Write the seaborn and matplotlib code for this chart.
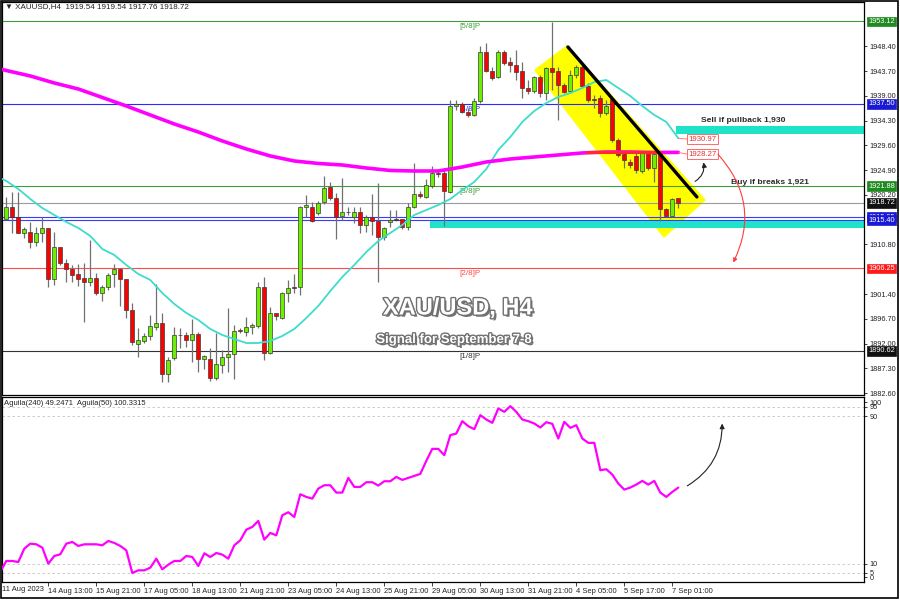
import numpy as np
import pandas as pd
import seaborn as sns
import matplotlib.pyplot as plt
import matplotlib.patheffects as pe
from matplotlib.patches import Polygon, Rectangle, FancyArrowPatch
from matplotlib.transforms import blended_transform_factory

# XAUUSD H4 candles (bar 0 = 11 Aug, last = 7 Sep 05:00)
opens = [1915.57, 1917.84, 1916.07, 1913.04, 1913.23, 1911.33, 1912.91, 1913.86, 1904.18, 1910.25,
         1907.34, 1906.08, 1905.19, 1904.37, 1903.74, 1904.37, 1901.52, 1902.66, 1905.13, 1906.08,
         1904.18, 1898.36, 1891.91, 1892.54, 1893.43, 1895.20, 1895.83, 1886.16, 1889.32, 1893.62,
         1893.62, 1892.67, 1893.81, 1889.00, 1889.13, 1885.40, 1887.93, 1889.51, 1890.01, 1894.44,
         1894.25, 1895.07, 1895.33, 1902.79, 1890.27, 1897.73, 1896.78, 1901.65, 1902.66, 1902.66,
         1917.84, 1917.97, 1916.71, 1918.86, 1921.64, 1919.55, 1916.20, 1917.02, 1915.95, 1917.02,
         1914.49, 1915.95, 1915.31, 1912.28, 1915.12, 1915.57, 1915.57, 1914.17, 1917.97, 1920.37,
         1919.87, 1921.90, 1924.43, 1924.30, 1920.82, 1937.08, 1937.46, 1936.00, 1935.37, 1938.09,
         1947.39, 1943.78, 1942.52, 1947.39, 1945.49, 1944.86, 1943.78, 1940.43, 1939.99, 1942.52,
         1939.61, 1944.22, 1943.78, 1941.06, 1939.99, 1942.96, 1944.41, 1940.87, 1938.34, 1938.53,
         1935.81, 1938.34, 1930.63, 1927.97, 1926.51, 1927.59, 1924.81, 1928.10, 1925.25, 1927.97,
         1917.46, 1916.20, 1919.54]
highs = [1919.74, 1920.82, 1920.82, 1914.17, 1915.12, 1914.17, 1916.07, 1914.00, 1913.23, 1910.38,
         1907.98, 1906.90, 1907.09, 1907.34, 1911.64, 1905.32, 1903.11, 1905.32, 1907.09, 1906.27,
         1904.30, 1899.63, 1894.88, 1893.94, 1897.41, 1903.30, 1897.73, 1889.51, 1895.20, 1894.88,
         1894.25, 1896.59, 1894.25, 1889.82, 1891.09, 1894.06, 1890.77, 1898.68, 1895.52, 1894.88,
         1897.10, 1895.83, 1903.74, 1904.56, 1899.00, 1897.86, 1901.84, 1904.06, 1905.19, 1918.10,
         1920.18, 1918.92, 1919.11, 1923.79, 1922.71, 1920.50, 1923.35, 1917.84, 1917.97, 1917.97,
         1916.39, 1920.37, 1922.40, 1914.17, 1917.34, 1917.34, 1915.60, 1918.73, 1926.19, 1921.01,
         1923.16, 1925.69, 1924.93, 1925.25, 1938.22, 1938.22, 1937.90, 1936.63, 1938.53, 1948.46,
         1948.97, 1944.54, 1947.70, 1947.70, 1946.44, 1947.70, 1945.49, 1942.01, 1942.77, 1942.96,
         1944.54, 1953.08, 1944.54, 1941.38, 1943.91, 1944.86, 1944.86, 1941.38, 1939.16, 1939.16,
         1938.22, 1938.85, 1930.94, 1928.41, 1926.96, 1928.41, 1928.41, 1928.41, 1928.41, 1928.41,
         1917.65, 1919.55, 1919.54]
lows = [1915.44, 1912.91, 1912.91, 1911.96, 1910.06, 1910.51, 1911.33, 1902.66, 1903.11, 1906.90,
        1903.74, 1903.74, 1902.92, 1896.15, 1902.92, 1901.21, 1900.13, 1902.16, 1902.79, 1899.12,
        1896.78, 1891.72, 1889.51, 1892.04, 1892.67, 1894.57, 1884.76, 1884.76, 1888.88, 1891.09,
        1891.41, 1888.56, 1886.66, 1887.10, 1884.95, 1885.08, 1886.47, 1886.66, 1885.21, 1893.94,
        1893.43, 1893.81, 1894.88, 1888.88, 1890.01, 1896.47, 1896.59, 1899.94, 1901.52, 1901.21,
        1916.07, 1915.12, 1916.39, 1918.50, 1919.24, 1911.77, 1915.50, 1916.39, 1914.93, 1912.91,
        1913.23, 1912.59, 1903.74, 1911.64, 1914.17, 1915.31, 1913.67, 1913.54, 1917.80, 1919.70,
        1919.55, 1921.60, 1923.67, 1914.30, 1920.60, 1936.32, 1935.68, 1935.05, 1935.18, 1937.58,
        1943.59, 1942.01, 1942.33, 1944.86, 1943.59, 1942.01, 1938.53, 1939.35, 1939.61, 1938.85,
        1938.22, 1940.10, 1934.42, 1939.48, 1939.48, 1942.33, 1940.62, 1937.90, 1936.63, 1935.05,
        1935.37, 1930.31, 1927.46, 1925.25, 1925.25, 1924.30, 1924.30, 1924.93, 1922.72, 1915.31,
        1915.95, 1916.07, 1917.76]
closes = [1917.84, 1916.07, 1913.04, 1913.67, 1911.33, 1912.91, 1913.86, 1904.18, 1910.38, 1907.22,
          1906.08, 1905.00, 1904.31, 1903.74, 1904.37, 1901.52, 1902.66, 1905.00, 1906.08, 1904.18,
          1898.36, 1892.35, 1892.67, 1893.43, 1895.33, 1895.96, 1886.16, 1888.88, 1893.62, 1893.56,
          1892.67, 1893.81, 1889.00, 1889.63, 1885.40, 1888.12, 1889.38, 1890.01, 1894.44, 1894.38,
          1895.07, 1895.45, 1902.79, 1890.27, 1897.73, 1897.22, 1901.65, 1902.47, 1902.54, 1917.97,
          1918.29, 1915.31, 1918.73, 1921.51, 1919.55, 1916.07, 1917.02, 1916.90, 1917.02, 1914.49,
          1915.95, 1915.31, 1912.28, 1913.86, 1915.44, 1915.40, 1914.17, 1917.97, 1920.37, 1919.99,
          1922.09, 1924.43, 1924.17, 1921.01, 1937.08, 1937.46, 1936.00, 1935.37, 1938.09, 1947.39,
          1943.78, 1942.33, 1947.39, 1945.30, 1944.86, 1943.59, 1940.43, 1939.99, 1942.52, 1939.61,
          1944.22, 1943.59, 1941.06, 1939.80, 1942.96, 1944.41, 1940.87, 1938.22, 1938.22, 1935.68,
          1937.08, 1930.63, 1927.78, 1926.83, 1925.88, 1924.93, 1928.10, 1925.25, 1927.97, 1917.47,
          1916.20, 1919.36, 1918.72]

# moving averages (read every few bars, first point at the left edge)
fast_ma_bars = [-1] + list(range(0, 113, 2))
fast_ma = [1923.40,
           1922.85, 1921.33, 1919.43, 1917.72, 1916.39, 1915.07, 1913.93, 1912.41, 1909.94, 1908.80,
           1906.91, 1905.20, 1904.06, 1901.59, 1899.51, 1897.80, 1896.47, 1894.76, 1893.62, 1892.86,
           1892.10, 1892.10, 1892.48, 1893.43, 1894.76, 1896.85, 1899.13, 1901.97, 1904.63, 1906.91,
           1909.37, 1911.46, 1912.98, 1914.50, 1916.39, 1917.34, 1918.29, 1919.43, 1921.14, 1922.66,
           1925.12, 1928.73, 1931.19, 1934.04, 1936.13, 1937.65, 1938.78, 1939.54, 1940.49, 1941.63,
           1942.01, 1940.49, 1938.97, 1937.08, 1935.37, 1934.04, 1930.97]
slow_ma_bars = [-1] + list(range(0, 113, 4))
slow_ma = [1944.10,
           1943.81, 1942.77, 1941.44, 1940.30, 1938.69, 1937.08, 1935.37, 1933.66, 1932.14, 1930.44,
           1928.92, 1927.59, 1926.64, 1926.17, 1925.88, 1925.31, 1924.84, 1924.74, 1924.74, 1925.50,
           1926.45, 1927.02, 1927.40, 1927.78, 1928.16, 1928.35, 1928.35, 1928.25, 1928.27]

# Aguila oscillator, one value per bar (first value at the left edge)
aguila_bars = list(range(-1, 113))
aguila = [5.5,
          11.41, 11.41, 10.86, 18.11, 20.82, 20.46, 18.65, 9.96, 14.13, 15.03,
          20.82, 21.73, 19.56, 20.46, 20.46, 20.46, 19.92, 22.27, 21.19, 19.56,
          17.20, 4.89, 6.34, 6.34, 7.78, 12.67, 6.88, 9.41, 11.41, 11.41,
          14.13, 13.58, 8.69, 15.57, 13.58, 15.75, 14.85, 12.67, 19.92, 22.64,
          28.43, 29.88, 33.14, 23.00, 26.62, 25.35, 36.22, 37.85, 35.31, 47.63,
          46.18, 45.27, 50.70, 52.52, 52.52, 48.53, 48.53, 56.50, 51.61, 51.61,
          54.15, 54.15, 52.34, 54.69, 54.69, 57.04, 55.41, 56.50, 57.59, 58.67,
          65.74, 72.26, 72.26, 68.82, 79.68, 80.59, 87.29, 84.57, 82.94, 90.55,
          88.19, 86.38, 94.17, 92.36, 95.44, 92.36, 88.19, 87.29, 86.02, 83.85,
          86.74, 85.84, 77.87, 86.93, 83.67, 85.11, 77.87, 75.52, 75.52, 60.67,
          61.21, 58.31, 53.42, 50.16, 51.25, 52.88, 54.87, 52.88, 54.87, 48.53,
          46.18, 48.89, 51.25]

date_tick_bars = list(range(7, 113, 8))
date_labels = ["14 Aug 13:00", "15 Aug 21:00", "17 Aug 05:00", "18 Aug 13:00", "21 Aug 21:00",
               "23 Aug 05:00", "24 Aug 13:00", "25 Aug 21:00", "29 Aug 05:00", "30 Aug 13:00",
               "31 Aug 21:00", "4 Sep 05:00", "5 Sep 17:00", "7 Sep 01:00"]
price_ticks = [1948.40, 1943.70, 1939.00, 1934.30, 1929.60, 1924.90, 1920.20,
               1910.80, 1901.40, 1896.70, 1892.00, 1887.30, 1882.60]

# Murrey levels and other horizontal lines
murrey_levels = [1953.12, 1937.50, 1921.88, 1906.25, 1890.62]
murrey_names = ["[5/8]P", "[4/8]P", "[3/8]P", "[2/8]P", "[1/8]P"]
murrey_colors = ["#3f9f3f", "#2b2bff", "#3f9f3f", "#ff4a4a", "#333333"]
last_price = 1918.72
blue_lines = [1915.95, 1915.40]
ma_fast_last = 1930.97
ma_slow_last = 1928.27

sns.set_theme(style="white")
plt.rcParams["font.family"] = ["Liberation Sans", "DejaVu Sans"]

fig = plt.figure(figsize=(9, 6), dpi=100)
ax = fig.add_axes([0.0022, 0.3417, 0.9578, 0.655])
ax2 = fig.add_axes([0.0022, 0.030, 0.9578, 0.3083])
x_lim = (-0.72, 142.95)

# ---- main panel ----
ax.add_patch(Polygon([(88.1, 1943.9), (93.45, 1948.45), (116.45, 1919.25), (109.6, 1912.2)],
                     closed=True, color="#ffff00", zorder=1))
ax.add_patch(Rectangle((111.6, 1931.8), 40, 1.5, color="#1fe3c8", lw=0, zorder=2))
ax.add_patch(Rectangle((70.6, 1914.0), 80, 1.32, color="#1fe3c8", lw=0, zorder=2))

for lvl, name, col in zip(murrey_levels, murrey_names, murrey_colors):
    ax.axhline(lvl, color=col, lw=0.8, zorder=1.5)
    ax.text(77.2, lvl - 1.05, name, color=col, fontsize=5.8, ha="center", va="center", zorder=1.6)
for lvl in blue_lines:
    ax.axhline(lvl, color="#3a3aff", lw=0.8, zorder=1.5)
ax.axhline(last_price, color="#9a9aa6", lw=0.8, zorder=1.5)

df = pd.DataFrame({"open": opens, "high": highs, "low": lows, "close": closes})
df["bar"] = np.arange(len(df))
rising = df["close"] >= df["open"]
body_lo = df[["open", "close"]].min(axis=1)
body_h = (df["close"] - df["open"]).abs().clip(lower=0.15)
ax.vlines(df["bar"], df["low"], df["high"], color="#707070", lw=0.9, zorder=4)
ax.bar(df["bar"], body_h, bottom=body_lo, width=0.62,
       color=np.where(rising, "#6cf000", "#ff0000"), edgecolor="#3a3a3a", lw=0.5, zorder=5)

sns.lineplot(x=fast_ma_bars, y=fast_ma, ax=ax, color="#3ddccb", lw=1.3, zorder=6)
sns.lineplot(x=slow_ma_bars, y=slow_ma, ax=ax, color="#ff00ff", lw=2.6, zorder=6)
ax.plot([96.8, 109], [1928.4, 1928.4], color="#ff2a2a", lw=2.2, zorder=6.5)

# trend line
ax.plot([93.6, 115.1], [1948.27, 1919.81], color="black", lw=2.4, solid_capstyle="round", zorder=7)

# MA value tags
for val, yv in [(ma_fast_last, 1930.8), (ma_slow_last, 1927.95)]:
    ax.plot([112, 113.4], [val, yv], color="#ff6a6a", lw=0.6, zorder=7)
    ax.text(116.0, yv, f"{val:.2f}", color="#e83030", fontsize=5.6, ha="center", va="center", zorder=8,
            bbox=dict(boxstyle="square,pad=0.15", fc="white", ec="#ff6a6a", lw=0.7))

ax.text(122.9, 1934.25, "Sell if pullback 1,930", fontsize=6.1, fontweight="bold",
        color="#2b2b2b", ha="center", va="center", zorder=8)
ax.text(127.3, 1922.5, "Buy if breaks 1,921", fontsize=6.1, fontweight="bold",
        color="#2b2b2b", ha="center", va="center", zorder=8)

ax.add_patch(FancyArrowPatch((118.3, 1928.3), (120.95, 1906.9), connectionstyle="arc3,rad=-0.35",
                             arrowstyle="-|>", mutation_scale=6, color="#ff3b3b", lw=0.8, zorder=8))
ax.add_patch(FancyArrowPatch((114.4, 1922.5), (116.1, 1926.9), connectionstyle="arc3,rad=0.4",
                             arrowstyle="-|>", mutation_scale=7, color="#222222", lw=0.8, zorder=8))

ax.set_xlim(x_lim)
ax.set_ylim(1882.24, 1956.81)
ax.yaxis.tick_right()
ax.set_yticks(price_ticks)
ax.set_yticklabels([f"{v:.2f}" for v in price_ticks])
ax.tick_params(axis="y", right=True, labelsize=5.3, length=2.5, pad=1.5, colors="#222222", width=0.6)
ax.tick_params(axis="x", bottom=False, labelbottom=False)

tag_tr = blended_transform_factory(ax.transAxes, ax.transData)
tags = [(1953.12, "#1f8a1f"), (1937.50, "#1a1ad6"), (1921.88, "#1f8a1f"), (last_price, "#111111"),
        (1915.95, "#1a1ad6"), (1915.40, "#1a1ad6"), (1906.25, "#ff1a1a"), (1890.62, "#111111")]
for val, col in tags:
    ax.text(1.005, val, f"{val:.2f}", transform=tag_tr, fontsize=5.3, color="white",
            ha="left", va="center", bbox=dict(boxstyle="square,pad=0.18", fc=col, ec=col, lw=0.5))

# ---- lower panel ----
sns.lineplot(x=aguila_bars, y=aguila, ax=ax2, color="#ff00ff", lw=1.6, zorder=4)
for lvl in [5, 10, 90, 95]:
    ax2.axhline(lvl, color="#c4c4c4", lw=0.6, ls=(0, (3, 3)), zorder=1)
ax2.add_patch(FancyArrowPatch((113.1, 51.4), (119.3, 87.5), connectionstyle="arc3,rad=0.3",
                              arrowstyle="-|>", mutation_scale=7, color="#222222", lw=0.8, zorder=5))
ax2.text(0.002, 0.985, "Aguila(240) 49.2471  Aguila(50) 100.3315", transform=ax2.transAxes,
         fontsize=5.5, color="#222222", ha="left", va="top")
ax2.set_xlim(x_lim)
ax2.set_ylim(0, 100.4)
ax2.yaxis.tick_right()
# 0 and 100 labels sit just inside the panel edges, as in the terminal
ax2.set_yticks([2.6, 5, 10, 90, 95, 97.6])
ax2.set_yticklabels(["0", "5", "10", "90", "95", "100"])
ax2.tick_params(axis="y", right=True, labelsize=5.2, length=2.5, pad=1.5, colors="#222222", width=0.6)
ax2.set_xticks(date_tick_bars)
ax2.set_xticklabels(date_labels, ha="left")
ax2.tick_params(axis="x", bottom=True, labelsize=5.4, length=3, pad=1.5, colors="#222222", width=0.6)
ax2.text(0.0, -0.022, "11 Aug 2023", transform=ax2.transAxes, fontsize=5.4, color="#222222",
         ha="left", va="top")

for a in (ax, ax2):
    a.set_xlabel("")
    a.set_ylabel("")
    for s in a.spines.values():
        s.set_color("black")
        s.set_linewidth(0.9)

fig.text(0.006, 1 - 7 / 600, "\u25bc XAUUSD,H4  1919.54 1919.54 1917.76 1918.72",
         fontsize=5.8, color="#222222", ha="left", va="center")

shadow = [pe.SimplePatchShadow(offset=(1.6, -1.6), shadow_rgbFace="black", alpha=0.55),
          pe.Stroke(linewidth=2.0, foreground="#707070"), pe.Normal()]
fig.text(458 / 900, 1 - 308 / 600, "XAU/USD, H4", fontsize=17, fontweight="bold", color="white",
         ha="center", va="center", path_effects=shadow)
fig.text(454 / 900, 1 - 340 / 600, "Signal for September 7-8", fontsize=9.5, fontweight="bold",
         color="white", ha="center", va="center", path_effects=shadow)

fig.add_artist(Rectangle((0.0012, 0.004), 0.9968, 0.9945, transform=fig.transFigure,
                         fill=False, ec="black", lw=1.2))

fig.savefig("out.png", dpi=100, facecolor="white")
